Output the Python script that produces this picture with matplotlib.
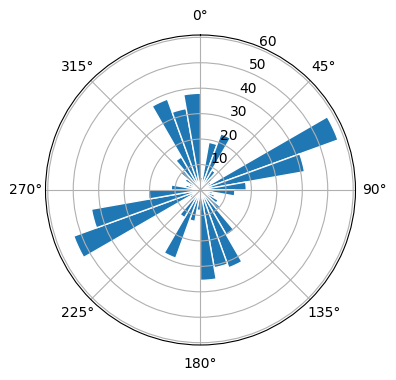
import numpy as np
import matplotlib
matplotlib.use('Agg')
import matplotlib.pyplot as plt

# direction bins (deg, left edge) and counts
bin_start = np.arange(0, 360, 10)
counts = [
5, 19, 23.5, 9, 6, 5, 57.5, 41.5, 18,      # 0 - 80
13.5, 5, 6, 8, 10, 20.5, 32.5, 31, 35.5,  # 90 - 170
8, 12.5, 28.5, 12.5, 5, 5, 53, 43.5, 20.5,  # 180 - 260
11.5, 6, 5, 7, 10, 15, 38, 32.5, 38,  # 270 - 350
]

fig = plt.figure(figsize=(3.96, 3.8), dpi=100)
ax = fig.add_axes([0.1149, 0.0921, 0.7828, 0.8158], projection='polar')
ax.set_theta_zero_location('N')
ax.set_theta_direction(-1)

theta = np.deg2rad(bin_start)
ax.bar(theta, counts, width=np.deg2rad(10), align='edge',
       color='C0', edgecolor='white', linewidth=1)

ax.set_ylim(0, 60.9)
ax.set_yticks([10, 20, 30, 40, 50, 60])
ax.grid(True)

plt.savefig('out.png', dpi=100)
